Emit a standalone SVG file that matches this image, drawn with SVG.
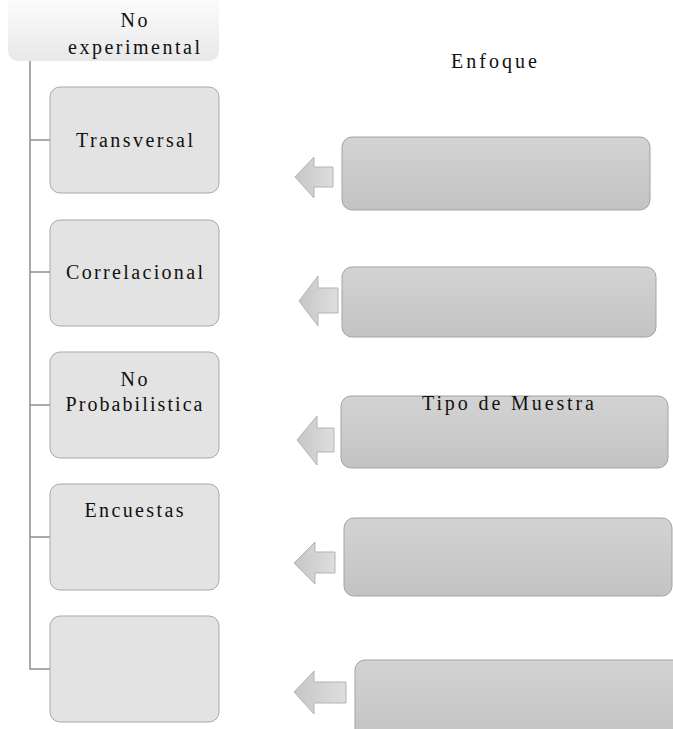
<svg xmlns="http://www.w3.org/2000/svg" width="673" height="729" viewBox="0 0 673 729">
<defs>
<linearGradient id="gHead" x1="0" y1="0" x2="0" y2="1">
<stop offset="0" stop-color="#ffffff"/>
<stop offset="1" stop-color="#e8e8e8"/>
</linearGradient>
<linearGradient id="gRight" x1="0" y1="0" x2="0" y2="1">
<stop offset="0" stop-color="#d3d3d3"/>
<stop offset="1" stop-color="#c3c3c3"/>
</linearGradient>
<linearGradient id="gArrow" x1="0" y1="0" x2="1" y2="0">
<stop offset="0" stop-color="#c6c6c6"/>
<stop offset="1" stop-color="#dedede"/>
</linearGradient>
</defs>
<style>
.t{font-family:"Liberation Serif","Times New Roman",serif;font-size:20px;fill:#111;text-anchor:middle}
.lb{fill:#e3e3e3;stroke:#a9a9a9;stroke-width:1}
.rb{fill:url(#gRight);stroke:#a3a3a3;stroke-width:1}
.ar{fill:url(#gArrow);stroke:#b3b3b3;stroke-width:1}
.cn{fill:none;stroke:#8e8e8e;stroke-width:1.5}
</style>
<g id="connectors">
<path class="cn" d="M30 61 V669 H50"/>
<path class="cn" d="M30 140 H50"/>
<path class="cn" d="M30 272 H50"/>
<path class="cn" d="M30 405 H50"/>
<path class="cn" d="M30 537 H50"/>
</g>
<g id="header">
<path d="M8 -10 H219 V51 A10 10 0 0 1 209 61 H18 A10 10 0 0 1 8 51 Z" fill="url(#gHead)"/>
<text class="t" x="134" y="27" textLength="27" lengthAdjust="spacing">No</text>
<text class="t" x="134" y="54" textLength="132" lengthAdjust="spacing">experimental</text>
</g>
<g id="n1">
<rect class="lb" x="50" y="87" width="169" height="106" rx="10"/>
<text class="t" x="134.5" y="147" textLength="117" lengthAdjust="spacing">Transversal</text>
</g>
<g id="n2">
<rect class="lb" x="50" y="220" width="169" height="106" rx="10"/>
<text class="t" x="134.5" y="279" textLength="137" lengthAdjust="spacing">Correlacional</text>
</g>
<g id="n3">
<rect class="lb" x="50" y="352" width="169" height="106" rx="10"/>
<text class="t" x="134" y="386" textLength="27" lengthAdjust="spacing">No</text>
<text class="t" x="134" y="411" textLength="137" lengthAdjust="spacing">Probabilistica</text>
</g>
<g id="n4">
<rect class="lb" x="50" y="484" width="169" height="106" rx="10"/>
<text class="t" x="134" y="517" textLength="99" lengthAdjust="spacing">Encuestas</text>
</g>
<g id="n5">
<rect class="lb" x="50" y="616" width="169" height="106" rx="10"/>
</g>
<g id="enfoque">
<text class="t" x="494" y="68" textLength="86" lengthAdjust="spacing">Enfoque</text>
</g>
<g id="r1">
<path class="ar" d="M295 177 L314 157 V167 H333 V187 H314 V198 Z"/>
<rect class="rb" x="342" y="137" width="308" height="73" rx="10"/>
</g>
<g id="r2">
<path class="ar" d="M299 301 L318 276 V288 H338 V313 H318 V326 Z"/>
<rect class="rb" x="342" y="267" width="314" height="70" rx="10"/>
</g>
<g id="r3">
<path class="ar" d="M297 440 L317 416 V428 H334 V452 H317 V465 Z"/>
<rect class="rb" x="341" y="396" width="327" height="72" rx="10"/>
<text class="t" x="508" y="410" textLength="172" lengthAdjust="spacing">Tipo de Muestra</text>
</g>
<g id="r4">
<path class="ar" d="M294 563 L315 542 V552 H335 V573 H315 V584 Z"/>
<rect class="rb" x="344" y="518" width="328" height="78" rx="10"/>
</g>
<g id="r5">
<path class="ar" d="M294 692 L314 671 V682 H346 V703 H314 V714 Z"/>
<rect class="rb" x="355" y="660" width="330" height="80" rx="10"/>
</g>
</svg>
